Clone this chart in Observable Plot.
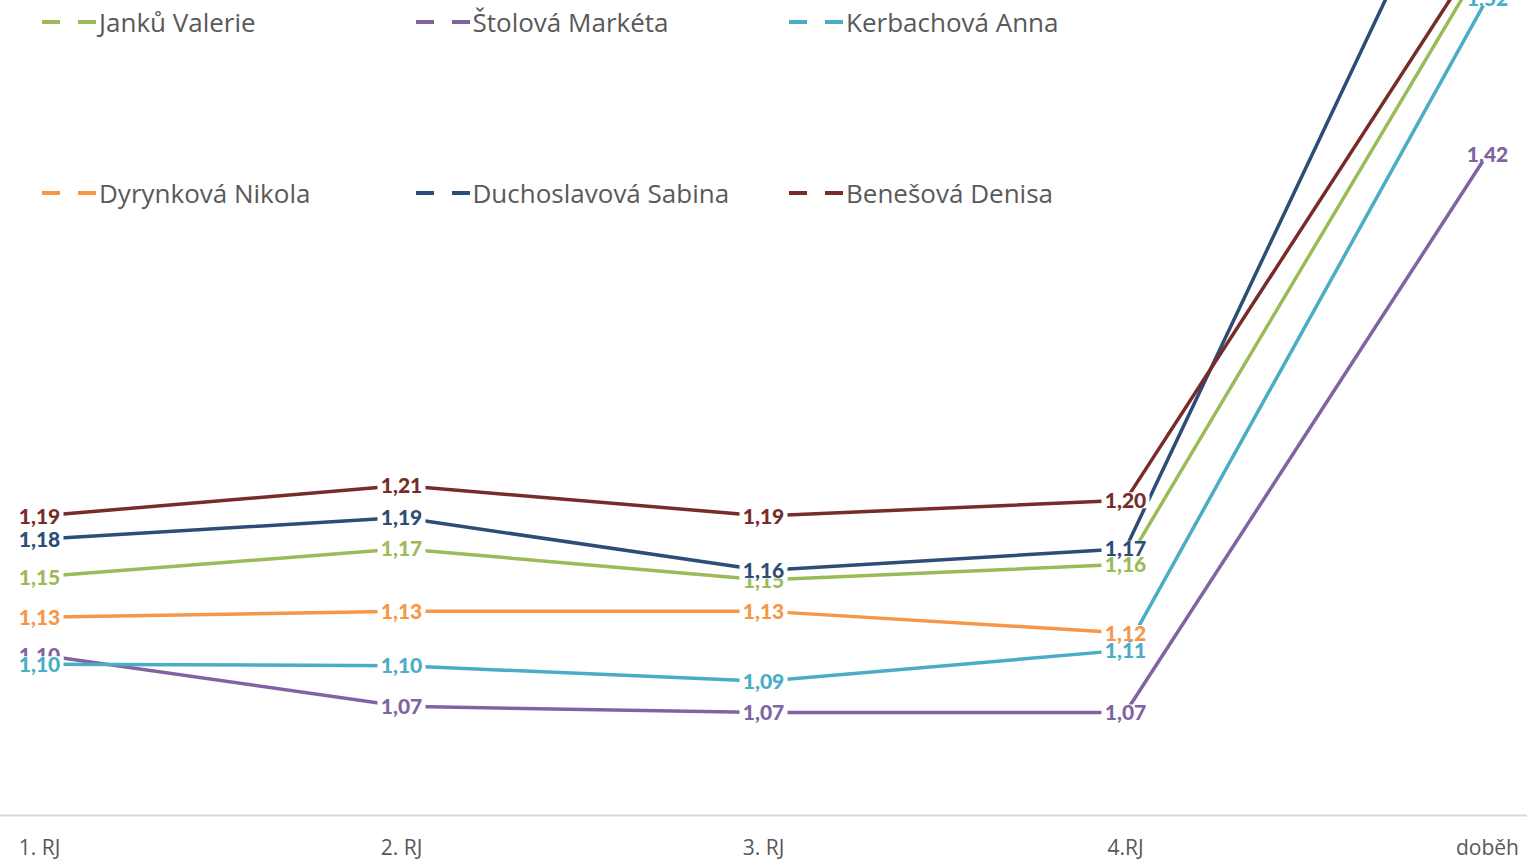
<!DOCTYPE html>
<html>
<head>
<meta charset="utf-8">
<script src="https://cdn.jsdelivr.net/npm/d3@7"></script>
<script src="https://cdn.jsdelivr.net/npm/@observablehq/plot@0.6"></script>
<style>
  html, body { margin: 0; padding: 0; background: #fff; }
  #wrap { position: relative; width: 1527px; height: 865px; overflow: hidden; }
  #legend { position: absolute; left: 0; top: 0; width: 1527px; height: 865px; pointer-events: none; }
  .item { position: absolute; display: flex; align-items: center; font-family: "Open Sans", sans-serif; font-size: 26px; color: #595959; white-space: nowrap; }
  .mk { display: inline-block; width: 18px; height: 3.5px; }
  .gap { display: inline-block; width: 18px; }
  .txt { margin-left: 3px; }
</style>
</head>
<body>
<div id="wrap"><div id="chart"></div><div id="legend"></div></div>
<script>
const categories = ["1. RJ", "2. RJ", "3. RJ", "4.RJ", "doběh"];
const names = ["Janků Valerie", "Štolová Markéta", "Kerbachová Anna", "Dyrynková Nikola", "Duchoslavová Sabina", "Benešová Denisa"];
const colors = ["#9bbb59", "#8064a2", "#4bacc6", "#f79646", "#2c4d75", "#772c2a"];
const janku        = [1.153, 1.171, 1.151, 1.161, 1.551];
const stolova      = [1.103, 1.070, 1.066, 1.066, 1.424];
const kerbachova   = [1.097, 1.096, 1.086, 1.106, 1.524];
const dyrynkova    = [1.127, 1.131, 1.131, 1.117, null];
const duchoslavova = [1.177, 1.191, 1.157, 1.171, 1.661];
const benesova     = [1.192, 1.2115, 1.192, 1.202, 1.560];
const series = [janku, stolova, kerbachova, dyrynkova, duchoslavova, benesova];

const rows = [];
series.forEach((vals, i) => vals.forEach((v, j) => rows.push({name: names[i], cat: categories[j], value: v})));

const fmt = v => d3.format(".2f")(v).replace(".", ",");
const boxSymbol = {draw(ctx) { ctx.rect(-24, -8, 48, 16); }};

const labelMarks = [];
names.forEach((n, i) => {
  const d = rows.filter(r => r.name === n && r.value != null);
  labelMarks.push(Plot.dot(d, {x: "cat", y: "value", symbol: boxSymbol, r: 5, fill: "white", stroke: null}));
  labelMarks.push(Plot.text(d, {x: "cat", y: "value", text: r => fmt(r.value), fill: colors[i],
    fontFamily: "Lato, sans-serif", fontWeight: 900, fontSize: 21, dy: 1}));
});

const chart = Plot.plot({
  width: 1527,
  height: 865,
  marginLeft: 38,
  marginRight: 39,
  marginTop: 0,
  marginBottom: 50,
  style: {background: "white", overflow: "hidden"},
  x: {type: "point", domain: categories, padding: 0, label: null},
  y: {domain: [1.0, 1.5224], axis: null},
  color: {domain: names, range: colors},
  marks: [
    Plot.ruleY([1.0], {stroke: "#d9d9d9", strokeWidth: 2, insetLeft: -38, insetRight: -39}),
    Plot.axisX({tickSize: 0, tickPadding: 25, fontSize: 21, fontFamily: "Open Sans, sans-serif", color: "#595959", label: null}),
    Plot.line(rows, {x: "cat", y: "value", z: "name", stroke: "name", strokeWidth: 3.5, defined: r => r.value != null}),
    ...labelMarks
  ]
});
document.getElementById("chart").appendChild(chart);

const legend = document.getElementById("legend");
names.forEach((n, i) => {
  const col = i % 3, row = Math.floor(i / 3);
  const el = document.createElement("div");
  el.className = "item";
  el.style.left = (42 + col * 373.5) + "px";
  el.style.top = (22 + row * 171 - 17) + "px";
  el.style.height = "34px";
  el.innerHTML = `<span class="mk" style="background:${colors[i]}"></span><span class="gap"></span><span class="mk" style="background:${colors[i]}"></span><span class="txt">${n}</span>`;
  legend.appendChild(el);
});
</script>
</body>
</html>
